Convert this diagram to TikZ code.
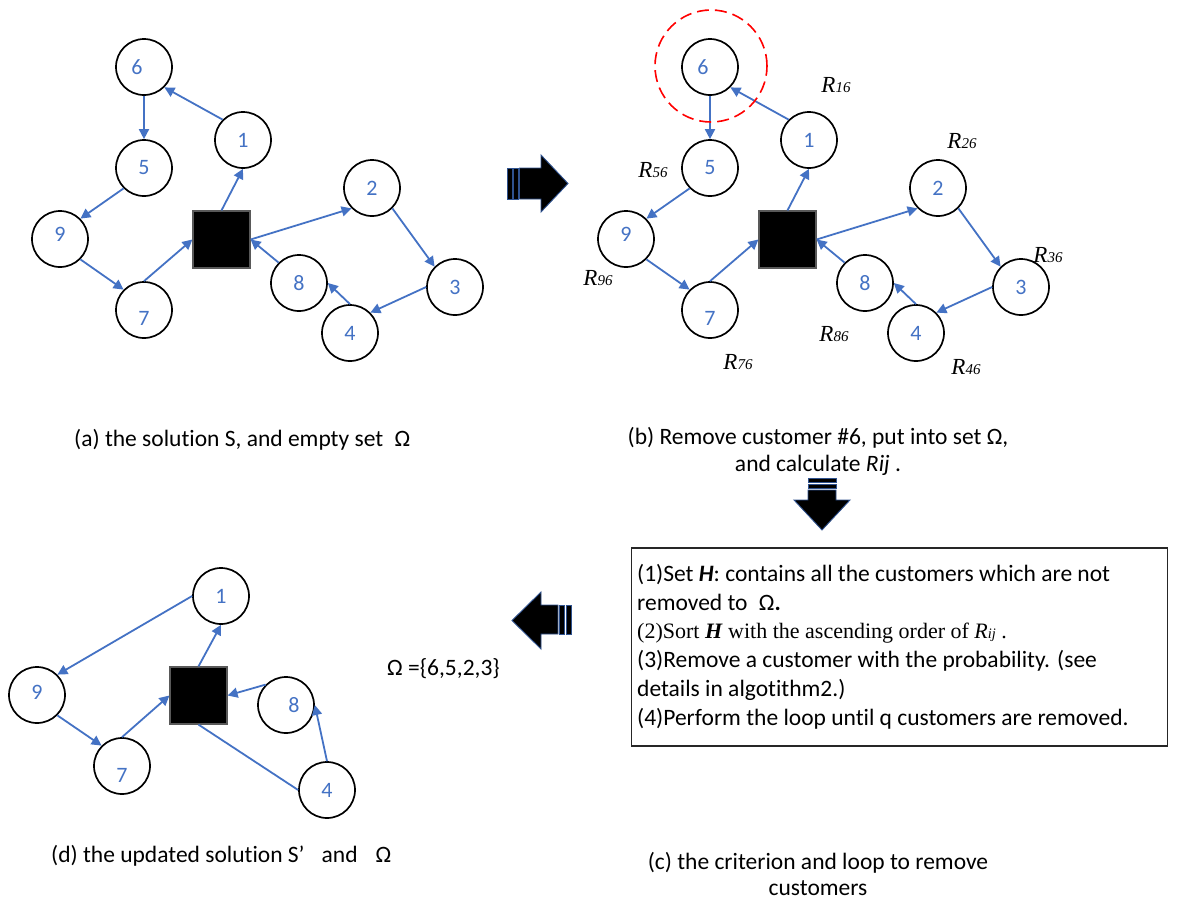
\documentclass[tikz,border=0pt]{standalone}
\usepackage{fontspec}
\setmainfont{Carlito}[Ligatures={NoCommon}]
\newfontfamily\serifR{Liberation Serif}
\usetikzlibrary{arrows.meta}
\definecolor{routeblue}{HTML}{4472C4}
\definecolor{arrowedge}{HTML}{2F528F}
\definecolor{depotedge}{HTML}{595959}
\tikzset{
  cust/.style={circle, draw=black, line width=1.7pt, minimum size=56pt, inner sep=0pt,
               text=routeblue, font=\fontsize{22}{26}\selectfont},
  custnum/.style={text=routeblue, font=\fontsize{22}{26}\selectfont, inner sep=0pt},
  depot/.style={rectangle, fill=black, draw=depotedge, line width=1.2pt, minimum size=57pt, inner sep=0pt},
  route/.style={draw=routeblue, line width=1.8pt, -{Triangle[length=10pt,width=10pt]}},
  plainroute/.style={draw=routeblue, line width=1.8pt},
  rval/.style={inner sep=0pt, font=\serifR\itshape},
  txt/.style={inner sep=0pt, font=\fontsize{23.5}{28}\selectfont},
  blockarrow/.style={fill=black, draw=arrowedge, line width=0.9pt},
  removal/.style={circle, draw=red, line width=1.6pt, dash pattern=on 12pt off 6pt,
                  minimum size=112pt, inner sep=0pt},
}
% R value with its small index
\newcommand\rij[1]{{\fontsize{23}{26}\selectfont R\fontsize{15}{17}\selectfont #1}}
% one complete solution: depot, nine customers and the two routes
\newcommand\solutiongraph[2]{%
\begin{scope}[xshift=#2]
  \node[cust, label={[custnum,xshift=-7pt]center:6}] (#1-6) at (144,67) {};
  \node[cust] (#1-1) at (243,140) {1};
  \node[cust] (#1-5) at (144,168) {5};
  \node[cust, label={[custnum,yshift=5pt]center:9}] (#1-9) at (60,239) {};
  \node[cust, label={[custnum,yshift=-8pt]center:7}] (#1-7) at (144,310) {};
  \node[depot] (#1-d) at (221.5,239.5) {};
  \node[cust] (#1-2) at (372,188) {2};
  \node[cust] (#1-3) at (455,287) {3};
  \node[cust] (#1-8) at (299,283) {8};
  \node[cust] (#1-4) at (350,333) {4};
  \draw[route] (#1-1.north west) -- (#1-6.south east);
  \draw[route] (#1-6.south) -- (#1-5.north);
  \draw[route] (#1-5.south west) -- (#1-9.north east);
  \draw[route] (#1-9.south east) -- (#1-7.north west);
  \draw[route] (#1-7.north) -- (#1-d.west);
  \draw[route] (#1-d.north) -- (#1-1.south);
  \draw[route] (#1-d.east) -- (#1-2.south west);
  \draw[route] (#1-2.south east) -- (#1-3.north west);
  \draw[route] (#1-3.west) -- (#1-4.north east);
  \draw[route] (#1-4.north) -- (#1-8.east);
  \draw[route] (#1-8.north west) -- (#1-d.east);
\end{scope}}

\begin{document}
\begin{tikzpicture}[x=1pt,y=-1pt]
\useasboundingbox (0,0) rectangle (1184,903);

% (a) initial solution
\solutiongraph{a}{0pt}
\node[txt, anchor=west] (capa) at (74,440) {(a) the solution S, and empty set\hspace{6pt} Ω};

% (b) customer 6 removed, removal values
\solutiongraph{b}{566pt}
\node[removal] (ring) at (711,66) {};
\node[rval] (r16) at (836,85) {\rij{16}};
\node[rval] (r56) at (653,170) {\rij{56}};
\node[rval] (r96) at (598,278) {\rij{96}};
\node[rval] (r76) at (738,362) {\rij{76}};
\node[rval] (r86) at (834,334) {\rij{86}};
\node[rval] (r26) at (962,141) {\rij{26}};
\node[rval] (r36) at (1048,255) {\rij{36}};
\node[rval] (r46) at (966,367) {\rij{46}};
\node[txt, align=center, font=\fontsize{23.5}{27}\selectfont] (capb) at (818,451)
  {(b) Remove customer \#6, put into set Ω,\\ and calculate \textit{Rij} .};

% (c) removal criterion
\node[draw=black!85, line width=1.2pt, minimum width=536pt, minimum height=198pt, inner sep=0pt]
  (crit) at (899.5,647) {};
\node[txt, anchor=base west] (c1) at (637,581)
  {(1)Set \textbf{\textit{H}}: contains all the customers which are not};
\node[txt, anchor=base west] (c2) at (637,610) {removed to\hspace{6pt} Ω\textbf{.}};
\node[txt, anchor=base west, font=\serifR\fontsize{22}{24}\selectfont] (c3) at (637,638)
  {(2)Sort \textbf{\textit{H}} with the ascending order of \textit{R{\fontsize{14.5}{16}\selectfont ij}} .};
\node[txt, anchor=base west] (c4) at (637,667) {(3)Remove a customer with the probability. (see};
\node[txt, anchor=base west] (c5) at (637,696) {details in algotithm2.)};
\node[txt, anchor=base west] (c6) at (637,725) {(4)Perform the loop until q customers are removed.};
\node[txt, align=center, font=\fontsize{23.5}{26}\selectfont] (capc) at (818,873.5)
  {(c) the criterion and loop to remove\\ customers};

% (d) updated solution
\node[cust] (d-1) at (221,596) {1};
\node[cust, label={[custnum,yshift=3pt]center:9}] (d-9) at (37,695) {};
\node[cust, label={[custnum,yshift=-9pt]center:7}] (d-7) at (122,766) {};
\node[depot] (d-d) at (198.5,695.5) {};
\node[cust, label={[custnum,xshift=8pt]center:8}] (d-8) at (286,705) {};
\node[cust] (d-4) at (327,790) {4};
\draw[route] (d-1.west) -- (d-9.north east);
\draw[route] (d-9.south east) -- (d-7.north west);
\draw[route] (d-7.north) -- (d-d.west);
\draw[route] (d-d.north) -- (d-1.south);
\draw[route] (d-8.north west) -- (d-d.east);
\draw[route] (d-4.north) -- (d-8.east);
\draw[plainroute] (d-d.south) -- (d-4.west);
\node[txt, anchor=west] (omega) at (387,669) {Ω =\{6,5,2,3\}};
\node[txt, anchor=west] (capd) at (51,856) {(d) the updated solution S’\hspace{12pt} and\hspace{18pt}Ω};

% striped block arrows between the panels
\path[blockarrow] (507,168) rectangle (512,199);
\path[blockarrow] (513.5,168) rectangle (518,199);
\path[blockarrow] (519.5,168) -- (541,168) -- (541,155) -- (568,183.5) -- (541,212)
  -- (541,199) -- (519.5,199) -- cycle;

\path[blockarrow] (808,478) rectangle (836,482);
\path[blockarrow] (808,484) rectangle (836,488);
\path[blockarrow] (808,490) -- (836,490) -- (836,500) -- (850,500) -- (822,530)
  -- (794,500) -- (808,500) -- cycle;

\path[blockarrow] (566,605) rectangle (571,634);
\path[blockarrow] (559,605) rectangle (564,634);
\path[blockarrow] (558,605) -- (541,605) -- (541,592) -- (512,620.5) -- (541,649)
  -- (541,634) -- (558,634) -- cycle;
\end{tikzpicture}
\end{document}
